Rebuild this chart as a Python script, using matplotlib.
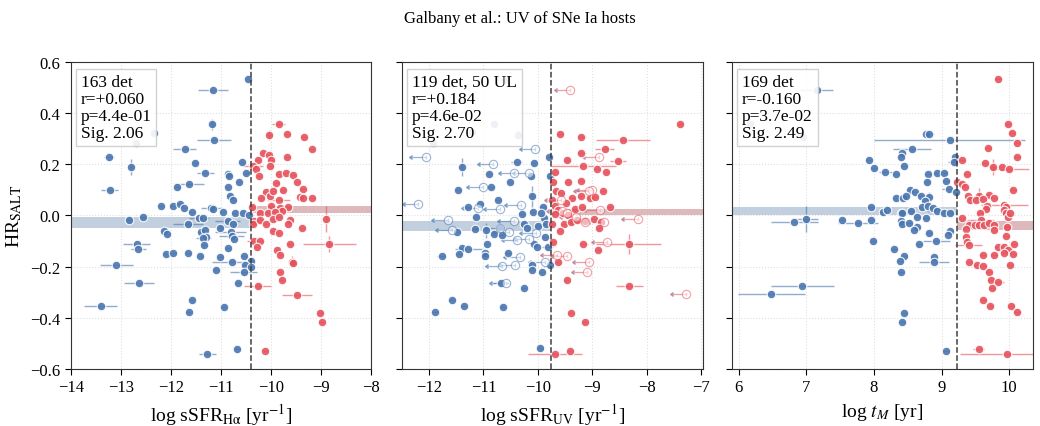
import matplotlib
matplotlib.use('Agg')
import matplotlib.pyplot as plt

plt.rcParams['font.family'] = ['Liberation Serif', 'DejaVu Serif']
plt.rcParams['mathtext.fontset'] = 'stix'

BLUE = '#4a76b0'
RED = '#e6525c'
BAND_BLUE = '#b8c7d9'
BAND_RED = '#d9adb1'

# (x, HR, xerr, yerr) -- panel 1: log sSFR(Halpha)
p1_blue = [
    (-10.47, 0.534, 0.03, 0), (-11.16, 0.492, 0.30, 0), (-11.17, 0.356, 0.03, 0.02),
    (-12.34, 0.323, 0.03, 0), (-11.14, 0.296, 0.33, 0), (-12.69, 0.283, 0.03, 0),
    (-11.72, 0.261, 0.23, 0), (-13.24, 0.229, 0.10, 0), (-11.51, 0.204, 0.05, 0),
    (-12.79, 0.190, 0.03, 0.03), (-11.31, 0.168, 0.17, 0), (-10.59, 0.209, 0.05, 0),
    (-10.50, 0.168, 0.05, 0), (-10.86, 0.164, 0.05, 0), (-10.85, 0.156, 0.05, 0),
    (-10.65, 0.131, 0.05, 0), (-11.87, 0.113, 0.05, 0), (-11.64, 0.122, 0.30, 0),
    (-13.22, 0.099, 0.17, 0), (-10.87, 0.110, 0.05, 0), (-10.83, 0.077, 0.05, 0),
    (-10.76, 0.060, 0.05, 0), (-12.20, 0.039, 0.05, 0), (-11.96, 0.039, 0.05, 0),
    (-11.82, 0.044, 0.05, 0), (-11.74, 0.030, 0.05, 0), (-11.58, 0.013, 0.05, 0),
    (-11.19, 0.031, 0.20, 0), (-11.15, 0.027, 0.05, 0), (-10.97, 0.012, 0.05, 0),
    (-10.73, 0.010, 0.05, 0), (-10.56, 0.010, 0.05, 0), (-12.84, -0.016, 0.05, 0),
    (-12.56, -0.006, 0.05, 0), (-11.43, -0.010, 0.20, 0), (-11.36, -0.010, 0.05, 0),
    (-11.66, -0.032, 0.30, 0), (-10.87, -0.022, 0.25, 0), (-11.01, -0.047, 0.05, 0),
    (-10.76, -0.034, 0.05, 0), (-10.45, 0.000, 0.05, 0), (-12.14, -0.061, 0.05, 0),
    (-12.08, -0.074, 0.05, 0), (-11.39, -0.066, 0.05, 0), (-11.31, -0.055, 0.05, 0),
    (-11.29, -0.086, 0.05, 0), (-11.35, -0.087, 0.15, 0), (-10.81, -0.066, 0.30, 0),
    (-10.79, -0.081, 0.25, 0), (-10.75, -0.092, 0.05, 0), (-11.33, -0.116, 0.05, 0),
    (-12.68, -0.112, 0.27, 0), (-12.65, -0.132, 0.15, 0), (-10.87, -0.127, 0.05, 0),
    (-12.10, -0.151, 0.05, 0), (-11.95, -0.145, 0.05, 0), (-11.65, -0.148, 0.05, 0),
    (-11.41, -0.158, 0.05, 0), (-11.01, -0.161, 0.05, 0), (-10.55, -0.158, 0.05, 0),
    (-13.09, -0.194, 0.33, 0), (-10.78, -0.182, 0.40, 0), (-10.40, -0.177, 0.05, 0),
    (-10.52, -0.195, 0.05, 0), (-10.41, -0.200, 0.05, 0), (-11.09, -0.213, 0.05, 0),
    (-10.55, -0.219, 0.27, 0), (-12.64, -0.262, 0.30, 0), (-10.67, -0.265, 0.05, 0),
    (-11.58, -0.332, 0.05, 0), (-11.64, -0.378, 0.05, 0), (-13.40, -0.353, 0.33, 0),
    (-10.95, -0.356, 0.05, 0), (-10.68, -0.521, 0.05, 0), (-11.27, -0.543, 0.17, 0),
]
p1_red = [
    (-9.85, 0.356, 0.13, 0), (-10.04, 0.316, 0.05, 0.02), (-9.68, 0.317, 0.05, 0),
    (-9.35, 0.305, 0.05, 0), (-9.19, 0.260, 0.05, 0), (-10.16, 0.245, 0.05, 0),
    (-10.05, 0.235, 0.08, 0), (-10.01, 0.218, 0.05, 0), (-10.27, 0.216, 0.05, 0),
    (-9.68, 0.229, 0.05, 0), (-10.36, 0.192, 0.20, 0), (-10.30, 0.182, 0.05, 0),
    (-10.24, 0.153, 0.05, 0), (-10.02, 0.192, 0.05, 0), (-9.85, 0.161, 0.05, 0),
    (-9.71, 0.168, 0.05, 0), (-9.56, 0.160, 0.05, 0), (-9.48, 0.132, 0.05, 0),
    (-9.90, 0.126, 0.05, 0), (-9.77, 0.101, 0.05, 0), (-9.37, 0.104, 0.05, 0),
    (-10.11, 0.092, 0.05, 0), (-10.03, 0.077, 0.05, 0), (-9.96, 0.096, 0.05, 0),
    (-10.20, 0.070, 0.05, 0), (-9.85, 0.060, 0.23, 0), (-9.42, 0.073, 0.05, 0),
    (-9.36, 0.069, 0.05, 0), (-9.18, 0.069, 0.05, 0), (-10.39, 0.035, 0.05, 0),
    (-10.00, 0.036, 0.05, 0), (-9.83, 0.031, 0.05, 0), (-9.66, 0.034, 0.05, 0),
    (-9.79, 0.016, 0.05, 0), (-10.23, 0.008, 0.05, 0), (-10.07, 0.010, 0.05, 0),
    (-9.93, 0.012, 0.05, 0), (-10.34, -0.021, 0.05, 0), (-10.37, -0.035, 0.05, 0),
    (-10.23, -0.018, 0.05, 0), (-10.10, -0.035, 0.05, 0), (-9.96, -0.014, 0.05, 0),
    (-9.85, -0.005, 0.05, 0), (-9.63, -0.018, 0.05, 0), (-9.66, -0.034, 0.05, 0),
    (-9.38, -0.047, 0.05, 0), (-9.96, -0.060, 0.05, 0), (-9.85, -0.070, 0.05, 0),
    (-8.90, -0.013, 0.03, 0.05), (-8.84, -0.112, 0.53, 0.03), (-9.63, -0.112, 0.08, 0),
    (-10.35, -0.100, 0.13, 0), (-10.22, -0.100, 0.05, 0), (-10.29, -0.122, 0.05, 0),
    (-9.88, -0.135, 0.05, 0), (-9.82, -0.155, 0.05, 0), (-9.58, -0.180, 0.05, 0.02),
    (-9.56, -0.187, 0.05, 0), (-9.83, -0.221, 0.05, 0), (-9.79, -0.252, 0.05, 0),
    (-10.27, -0.275, 0.27, 0), (-9.48, -0.309, 0.30, 0), (-9.02, -0.382, 0.05, 0),
    (-8.99, -0.418, 0.05, 0), (-10.12, -0.529, 0.05, 0),
]

# panel 2: log sSFR(UV); detections and upper limits
p2_blue = [
    (-10.60, 0.531, 0.05, 0), (-10.80, 0.356, 0.05, 0), (-11.22, 0.325, 0.05, 0),
    (-10.36, 0.316, 0.05, 0.02), (-11.92, 0.283, 0.08, 0), (-11.40, 0.190, 0.03, 0.035),
    (-10.39, 0.209, 0.10, 0), (-10.07, 0.205, 0.05, 0), (-9.80, 0.229, 0.05, 0),
    (-10.89, 0.161, 0.05, 0), (-10.13, 0.153, 0.05, 0), (-10.52, 0.131, 0.05, 0),
    (-9.77, 0.153, 0.05, 0), (-10.86, 0.112, 0.08, 0), (-11.47, 0.099, 0.05, 0),
    (-10.11, 0.075, 0.05, 0.04), (-10.73, 0.060, 0.05, 0), (-11.07, 0.043, 0.08, 0),
    (-11.29, 0.032, 0.05, 0), (-11.14, -0.005, 0.05, 0), (-10.30, 0.005, 0.05, 0),
    (-10.09, 0.013, 0.05, 0), (-9.91, 0.034, 0.05, 0), (-9.88, -0.009, 0.05, 0),
    (-9.94, 0.010, 0.05, 0), (-10.26, -0.035, 0.05, 0), (-10.20, -0.048, 0.05, 0),
    (-10.00, -0.040, 0.05, 0), (-9.85, -0.035, 0.05, 0), (-11.16, -0.053, 0.05, 0),
    (-10.96, -0.058, 0.03, 0.03), (-11.49, -0.066, 0.05, 0), (-10.70, -0.048, 0.05, 0),
    (-10.80, -0.074, 0.05, 0), (-10.66, -0.077, 0.05, 0), (-9.87, -0.086, 0.05, 0),
    (-10.94, -0.113, 0.05, 0), (-10.07, -0.112, 0.05, 0), (-10.01, -0.122, 0.05, 0),
    (-9.82, -0.125, 0.10, 0), (-11.40, -0.126, 0.05, 0), (-11.28, -0.132, 0.25, 0),
    (-10.97, -0.145, 0.05, 0), (-10.97, -0.158, 0.05, 0), (-10.55, -0.145, 0.05, 0),
    (-11.45, -0.151, 0.05, 0), (-11.77, -0.157, 0.08, 0), (-9.78, -0.195, 0.05, 0),
    (-10.11, -0.195, 0.05, 0), (-10.11, -0.213, 0.05, 0), (-9.92, -0.221, 0.05, 0),
    (-10.68, -0.262, 0.15, 0), (-10.26, -0.283, 0.05, 0), (-11.58, -0.332, 0.08, 0),
    (-11.36, -0.353, 0.05, 0), (-10.65, -0.357, 0.05, 0), (-11.89, -0.379, 0.05, 0),
    (-9.96, -0.519, 0.05, 0),
]
p2_blue_ul = [
    (-12.06, 0.230), (-10.05, 0.261), (-10.82, 0.203), (-10.43, 0.168), (-10.17, 0.165),
    (-11.01, 0.110), (-12.20, 0.044), (-11.10, 0.031), (-10.70, 0.027), (-10.31, 0.040),
    (-11.66, -0.016), (-10.44, -0.021), (-10.69, -0.047), (-11.58, -0.058), (-10.53, -0.066),
    (-10.38, -0.095), (-10.16, -0.090), (-10.04, -0.070), (-10.33, -0.162), (-10.42, -0.192),
    (-10.66, -0.196), (-9.87, -0.182), (-10.59, -0.265),
]
p2_red = [
    (-7.38, 0.356, 0.05, 0), (-9.59, 0.317, 0.05, 0), (-9.20, 0.305, 0.08, 0),
    (-8.43, 0.295, 0.50, 0), (-8.77, 0.260, 0.18, 0), (-9.20, 0.245, 0.08, 0),
    (-9.46, 0.218, 0.05, 0), (-8.52, 0.214, 0.15, 0), (-9.16, 0.194, 0.60, 0),
    (-8.91, 0.181, 0.05, 0), (-8.74, 0.169, 0.05, 0), (-9.68, 0.170, 0.05, 0),
    (-9.72, 0.129, 0.05, 0), (-9.45, 0.132, 0.05, 0), (-9.20, 0.135, 0.05, 0),
    (-9.66, 0.094, 0.05, 0), (-9.57, 0.086, 0.05, 0), (-9.37, 0.070, 0.05, 0),
    (-9.21, 0.077, 0.05, 0), (-9.04, 0.070, 0.05, 0), (-8.95, 0.073, 0.05, 0),
    (-8.80, 0.096, 0.05, 0), (-9.74, 0.060, 0.05, 0), (-9.48, 0.048, 0.05, 0),
    (-9.32, 0.027, 0.05, 0), (-9.18, 0.034, 0.05, 0), (-8.68, 0.034, 0.05, 0),
    (-9.69, 0.039, 0.05, 0), (-9.63, 0.021, 0.05, 0), (-9.53, 0.010, 0.05, 0),
    (-9.45, 0.000, 0.05, 0), (-9.69, 0.005, 0.05, 0), (-9.74, -0.034, 0.05, 0),
    (-9.52, -0.035, 0.05, 0), (-9.39, -0.026, 0.05, 0), (-9.28, -0.018, 0.05, 0),
    (-9.13, -0.022, 0.05, 0), (-8.97, -0.012, 0.05, 0), (-8.84, -0.025, 0.05, 0),
    (-9.60, -0.061, 0.05, 0), (-8.88, -0.048, 0.05, 0), (-9.73, -0.103, 0.05, 0),
    (-9.16, -0.112, 0.08, 0), (-8.33, -0.112, 0.60, 0.04), (-8.89, -0.134, 0.05, 0),
    (-9.62, -0.183, 0.05, 0), (-9.47, -0.252, 0.05, 0), (-8.32, -0.275, 0.25, 0),
    (-9.39, -0.381, 0.05, 0), (-9.14, -0.418, 0.05, 0), (-9.69, -0.542, 0.50, 0),
    (-9.41, -0.529, 0.05, 0),
]
p2_red_ul = [
    (-9.40, 0.492), (-8.88, 0.229), (-9.00, 0.100), (-9.05, 0.097), (-8.86, 0.021),
    (-8.79, -0.027), (-9.13, -0.027), (-8.72, -0.103), (-9.06, -0.180), (-9.09, -0.219),
    (-9.47, -0.157), (-9.65, -0.156), (-9.58, 0.060), (-9.55, 0.017), (-9.46, 0.010),
    (-9.30, -0.004), (-8.16, -0.014), (-7.27, -0.308),
]

# panel 3: log t_M
p3_blue = [
    (7.15, 0.492, 0.25, 0), (6.16, 0.357, 0.05, 0), (6.95, 0.305, 0.05, 0),
    (8.77, 0.317, 0.05, 0), (8.81, 0.317, 0.08, 0), (9.12, 0.295, 1.12, 0),
    (8.56, 0.258, 0.28, 0), (8.42, 0.244, 0.05, 0), (8.40, 0.230, 0.05, 0),
    (7.92, 0.216, 0.05, 0), (8.00, 0.184, 0.05, 0), (8.44, 0.192, 0.05, 0),
    (8.17, 0.170, 0.10, 0), (8.32, 0.161, 0.05, 0), (9.20, 0.230, 0.05, 0),
    (9.18, 0.209, 0.08, 0), (8.80, 0.162, 0.05, 0), (8.93, 0.168, 0.05, 0),
    (9.04, 0.168, 0.05, 0), (8.79, 0.132, 0.05, 0), (9.07, 0.135, 0.05, 0),
    (9.11, 0.105, 0.10, 0), (9.21, 0.090, 0.05, 0), (8.54, 0.101, 0.05, 0),
    (8.61, 0.091, 0.05, 0), (8.33, 0.070, 0.05, 0), (8.43, 0.070, 0.05, 0),
    (8.48, 0.078, 0.05, 0), (8.70, 0.075, 0.05, 0), (8.81, 0.073, 0.05, 0.02),
    (8.76, 0.057, 0.05, 0), (7.95, 0.035, 0.05, 0), (8.13, 0.013, 0.05, 0),
    (8.19, 0.023, 0.05, 0), (8.40, 0.008, 0.05, 0), (8.42, 0.010, 0.05, 0),
    (8.55, 0.019, 0.05, 0), (8.71, 0.034, 0.05, 0), (8.80, 0.039, 0.05, 0),
    (8.87, 0.031, 0.05, 0), (8.94, 0.019, 0.15, 0), (9.03, 0.008, 0.05, 0),
    (9.12, 0.008, 0.05, 0), (8.63, -0.005, 0.05, 0), (8.77, -0.008, 0.05, 0),
    (6.82, -0.027, 0.35, 0), (7.00, -0.014, 0.17, 0.05), (7.52, -0.017, 0.05, 0),
    (7.76, -0.031, 0.30, 0), (7.96, -0.019, 0.05, 0), (8.40, -0.022, 0.05, 0),
    (8.41, -0.035, 0.05, 0), (8.52, -0.031, 0.05, 0), (8.63, -0.044, 0.05, 0),
    (8.59, -0.058, 0.05, 0), (8.81, -0.070, 0.05, 0), (9.12, -0.061, 0.05, 0),
    (9.09, -0.075, 0.05, 0), (7.99, -0.100, 0.05, 0), (8.67, -0.110, 0.05, 0),
    (8.92, -0.101, 0.20, 0), (8.29, -0.132, 0.05, 0), (8.45, -0.157, 0.05, 0),
    (8.38, -0.177, 0.05, 0), (8.89, -0.162, 0.05, 0), (8.89, -0.183, 0.22, 0),
    (8.40, -0.219, 0.05, 0), (6.94, -0.275, 0.47, 0), (6.48, -0.308, 0.50, 0),
    (8.45, -0.382, 0.05, 0), (8.42, -0.418, 0.05, 0), (9.07, -0.529, 0.05, 0),
]
p3_red = [
    (9.84, 0.534, 0.05, 0), (9.98, 0.356, 0.05, 0), (10.04, 0.323, 0.05, 0),
    (10.11, 0.283, 0.05, 0), (10.11, 0.230, 0.05, 0), (9.69, 0.262, 0.05, 0),
    (9.30, 0.218, 0.05, 0), (9.64, 0.205, 0.05, 0), (9.76, 0.190, 0.05, 0.03),
    (9.90, 0.190, 0.05, 0), (10.00, 0.182, 0.30, 0), (9.37, 0.162, 0.05, 0),
    (9.23, 0.132, 0.05, 0), (9.30, 0.125, 0.05, 0), (9.34, 0.112, 0.05, 0),
    (10.06, 0.099, 0.05, 0), (9.39, 0.075, 0.05, 0), (9.42, 0.060, 0.05, 0),
    (9.56, 0.077, 0.05, 0.03), (9.70, 0.081, 0.05, 0), (9.78, 0.069, 0.05, 0),
    (9.51, 0.060, 0.05, 0), (9.62, 0.065, 0.05, 0), (9.68, 0.036, 0.05, 0),
    (9.66, 0.027, 0.05, 0), (9.93, 0.040, 0.35, 0), (9.96, 0.034, 0.05, 0),
    (9.93, 0.021, 0.05, 0), (9.95, 0.008, 0.05, 0), (9.98, -0.005, 0.05, 0),
    (9.57, 0.010, 0.05, 0), (9.30, -0.009, 0.05, 0), (9.58, -0.017, 0.20, 0),
    (10.02, 0.008, 0.05, 0), (9.41, -0.038, 0.05, 0), (9.49, -0.038, 0.05, 0),
    (9.56, -0.038, 0.05, 0), (9.63, -0.038, 0.05, 0), (9.70, -0.031, 0.05, 0),
    (9.77, -0.038, 0.05, 0), (9.36, -0.053, 0.05, 0), (9.77, -0.057, 0.05, 0),
    (9.97, -0.045, 0.05, 0), (9.36, -0.083, 0.05, 0), (9.38, -0.103, 0.05, 0),
    (9.96, -0.082, 0.05, 0), (9.40, -0.116, 0.20, 0), (9.83, -0.122, 0.05, 0),
    (9.92, -0.122, 0.05, 0), (9.99, -0.136, 0.05, 0), (10.07, -0.113, 0.05, 0),
    (9.92, -0.148, 0.05, 0), (10.06, -0.152, 0.05, 0), (9.61, -0.156, 0.05, 0),
    (9.78, -0.156, 0.05, 0), (9.41, -0.182, 0.05, 0), (9.52, -0.192, 0.05, 0),
    (9.62, -0.196, 0.05, 0), (10.01, -0.194, 0.05, 0), (9.70, -0.222, 0.05, 0),
    (9.73, -0.252, 0.05, 0), (9.84, -0.261, 0.08, 0), (9.75, -0.282, 0.05, 0),
    (9.62, -0.332, 0.05, 0), (9.72, -0.355, 0.05, 0), (10.03, -0.352, 0.05, 0),
    (10.11, -0.378, 0.05, 0), (9.55, -0.521, 0.08, 0), (9.97, -0.543, 0.70, 0),
]

# split value and mean HR +/- error on each side (low side, high side)
splits = [-10.4, -9.76, 9.23]
band_low = [(-0.027, 0.022), (-0.040, 0.020), (0.019, 0.016)]
band_high = [(0.024, 0.014), (0.013, 0.012), (-0.038, 0.018)]

xlims = [(-14, -8), (-12.5, -6.97), (5.9, 10.35)]
xticks = [range(-14, -7), range(-12, -6), range(6, 11)]
xlabels = [r'log sSFR$_{\mathrm{H\alpha}}$ [yr$^{-1}$]',
           r'log sSFR$_{\mathrm{UV}}$ [yr$^{-1}$]',
           r'log $t_M$ [yr]']
stats = ['163 det\nr=+0.060\np=4.4e-01\nSig. 2.06',
         '119 det, 50 UL\nr=+0.184\np=4.6e-02\nSig. 2.70',
         '169 det\nr=-0.160\np=3.7e-02\nSig. 2.49']


def draw_det(ax, pts, color):
    x = [p[0] for p in pts]
    y = [p[1] for p in pts]
    xe = [p[2] for p in pts]
    ye = [p[3] for p in pts]
    ax.errorbar(x, y, xerr=xe, yerr=ye, fmt='none', ecolor=color,
                alpha=0.6, lw=1, zorder=2)
    ax.scatter(x, y, s=38, c=color, edgecolors='white', linewidths=0.8,
               alpha=0.9, zorder=3)


def draw_ul(ax, pts, color):
    x = [p[0] for p in pts]
    y = [p[1] for p in pts]
    ax.errorbar(x, y, xerr=0.25, xuplims=True, fmt='none', ecolor=color,
                alpha=0.55, lw=0.9, capsize=1.6, zorder=2)
    ax.scatter(x, y, s=36, facecolors='white', edgecolors=color,
               linewidths=0.8, alpha=0.55, zorder=3)


fig = plt.figure(figsize=(10.4, 4.27), dpi=100)
lefts = [0.068, 0.3865, 0.704]
axes = [fig.add_axes([l, 0.1335, 0.289, 0.719]) for l in lefts]

groups = [(p1_blue, p1_red, None, None),
          (p2_blue, p2_red, p2_blue_ul, p2_red_ul),
          (p3_blue, p3_red, None, None)]

for i, ax in enumerate(axes):
    blue, red, bul, rul = groups[i]
    x0, x1 = xlims[i]
    s = splits[i]
    m, e = band_low[i]
    ax.fill_between([x0, s], m - e, m + e, color=BAND_BLUE, alpha=0.85, lw=0, zorder=1)
    m, e = band_high[i]
    ax.fill_between([s, x1], m - e, m + e, color=BAND_RED, alpha=0.85, lw=0, zorder=1)
    draw_det(ax, blue, BLUE)
    draw_det(ax, red, RED)
    if bul:
        draw_ul(ax, bul, BLUE)
        draw_ul(ax, rul, RED)
    ax.axvline(s, color='0.25', ls='--', lw=1.1, zorder=4)
    ax.set_xlim(x0, x1)
    ax.set_ylim(-0.6, 0.6)
    ax.set_xticks(list(xticks[i]))
    ax.set_yticks([-0.6, -0.4, -0.2, 0.0, 0.2, 0.4, 0.6])
    ax.grid(True, ls=':', color='0.88', lw=0.8, zorder=0)
    ax.set_axisbelow(True)
    ax.tick_params(labelsize=12, direction='out', length=4)
    ax.set_xlabel(xlabels[i], fontsize=14)
    if i > 0:
        ax.tick_params(labelleft=False)
    for sp in ax.spines.values():
        sp.set_color('0.2')
    ax.text(0.033, 0.962, stats[i], transform=ax.transAxes, fontsize=12.5,
            va='top', ha='left', linespacing=1.1, zorder=6,
            bbox=dict(boxstyle='square,pad=0.28', fc='white', ec='0.8', alpha=0.9))

axes[0].set_ylabel(r'HR$_{\mathrm{SALT}}$', fontsize=14)
fig.suptitle('Galbany et al.: UV of SNe Ia hosts', fontsize=12, y=0.975)

fig.savefig('out.png', dpi=100)
